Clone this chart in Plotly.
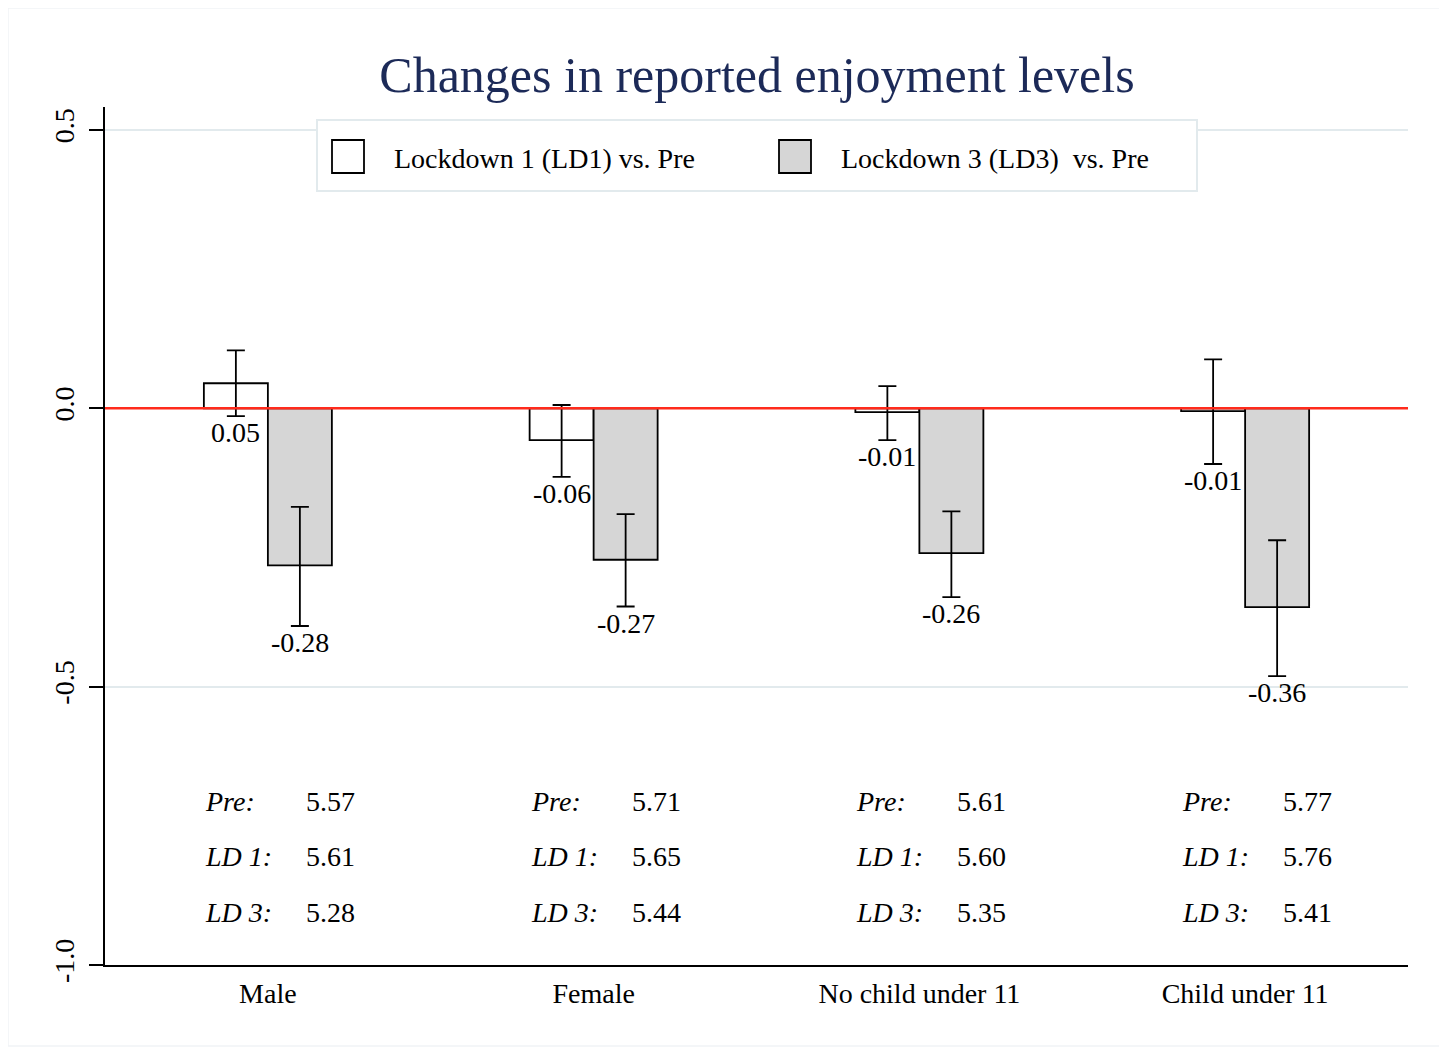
import plotly.graph_objects as go

# ---------------- data ----------------
groups = ["Male", "Female", "No child under 11", "Child under 11"]

ld1_change = [0.045, -0.057, -0.007, -0.005]
ld1_ci_low = [-0.014, -0.123, -0.057, -0.100]
ld1_ci_high = [0.104, 0.006, 0.040, 0.088]
ld1_labels = ["0.05", "-0.06", "-0.01", "-0.01"]

ld3_change = [-0.282, -0.272, -0.260, -0.357]
ld3_ci_low = [-0.391, -0.356, -0.339, -0.481]
ld3_ci_high = [-0.177, -0.190, -0.185, -0.237]
ld3_labels = ["-0.28", "-0.27", "-0.26", "-0.36"]

pre_level = ["5.57", "5.71", "5.61", "5.77"]
ld1_level = ["5.61", "5.65", "5.60", "5.76"]
ld3_level = ["5.28", "5.44", "5.35", "5.41"]
row_names = ["Pre:", "LD 1:", "LD 3:"]
row_y = [-0.70, -0.80, -0.90]

y_ticks = [0.5, 0.0, -0.5, -1.0]
y_tick_text = ["0.5", "0.0", "-0.5", "-1.0"]

legend_names = ["Lockdown 1 (LD1) vs. Pre", "Lockdown 3 (LD3)\u00a0 vs. Pre"]

# ---------------- style ----------------
FONT = "Liberation Serif, Times New Roman, serif"
GRID = "#e2eaed"
LD3_FILL = "#d6d6d6"
FS = 28

x_idx = list(range(len(groups)))

fig = go.Figure()

def err(vals, lo, hi):
    return dict(
        type="data",
        symmetric=False,
        array=[h - v for v, h in zip(vals, hi)],
        arrayminus=[v - l for v, l in zip(vals, lo)],
        color="black",
        thickness=1.8,
        width=9,
    )

fig.add_trace(go.Bar(
    x=x_idx, y=ld1_change, name=legend_names[0],
    marker=dict(color="white", line=dict(color="black", width=1.8)),
    error_y=err(ld1_change, ld1_ci_low, ld1_ci_high),
    showlegend=False,
))
fig.add_trace(go.Bar(
    x=x_idx, y=ld3_change, name=legend_names[1],
    marker=dict(color=LD3_FILL, line=dict(color="black", width=1.8)),
    error_y=err(ld3_change, ld3_ci_low, ld3_ci_high),
    showlegend=False,
))

# page offset: the browser body adds 8px margin
OFF = 8
W, H = 1447 - OFF, 1049 - OFF
ml, mr, mt, mb = 105 - OFF, 39, 107 - OFF, 84
pw, ph = W - ml - mr, H - mt - mb

def px_x(p):  # page x -> paper
    return (p - OFF - ml) / pw

def px_y(p):  # page y -> paper
    return 1 - (p - OFF - mt) / ph

annotations = []
bar_offset = 0.0983  # half of a bar width in category units
for i in x_idx:
    annotations.append(dict(
        x=i - bar_offset, y=ld1_ci_low[i], xref="x", yref="y",
        text=ld1_labels[i], showarrow=False, yanchor="top", xanchor="center",
        yshift=1, font=dict(family=FONT, size=FS, color="black"),
    ))
    annotations.append(dict(
        x=i + bar_offset, y=ld3_ci_low[i], xref="x", yref="y",
        text=ld3_labels[i], showarrow=False, yanchor="top", xanchor="center",
        yshift=1, font=dict(family=FONT, size=FS, color="black"),
    ))
    levels = [pre_level[i], ld1_level[i], ld3_level[i]]
    for name, val, yy in zip(row_names, levels, row_y):
        annotations.append(dict(
            x=i, y=yy, xref="x", yref="y", text="<i>" + name + "</i>",
            showarrow=False, xanchor="left", yanchor="middle",
            xshift=-65, yshift=-3, font=dict(family=FONT, size=FS, color="black"),
        ))
        annotations.append(dict(
            x=i, y=yy, xref="x", yref="y", text=val,
            showarrow=False, xanchor="left", yanchor="middle",
            xshift=36, yshift=-3, font=dict(family=FONT, size=FS, color="black"),
        ))

shapes = [
    dict(type="line", xref="paper", yref="y", x0=0, x1=1, y0=0, y1=0,
         line=dict(color="#ff2b1c", width=2.6), layer="above"),
    dict(type="rect", xref="paper", yref="paper",
         x0=px_x(317), x1=px_x(1197), y0=px_y(191), y1=px_y(120),
         line=dict(color=GRID, width=2), fillcolor="white", layer="above"),
    dict(type="rect", xref="paper", yref="paper",
         x0=px_x(332), x1=px_x(364), y0=px_y(173), y1=px_y(140),
         line=dict(color="black", width=1.8), fillcolor="white", layer="above"),
    dict(type="rect", xref="paper", yref="paper",
         x0=px_x(779), x1=px_x(811), y0=px_y(173), y1=px_y(140),
         line=dict(color="black", width=1.8), fillcolor=LD3_FILL, layer="above"),
    dict(type="rect", xref="paper", yref="paper",
         x0=px_x(8), x1=px_x(1443), y0=px_y(1046), y1=px_y(8),
         line=dict(color="#f1f4f6", width=1.5), fillcolor="rgba(0,0,0,0)", layer="below"),
]
annotations.append(dict(
    x=px_x(392), y=px_y(159), xref="paper", yref="paper", text=legend_names[0],
    showarrow=False, xanchor="left", yanchor="middle",
    font=dict(family=FONT, size=FS, color="black"),
))
annotations.append(dict(
    x=px_x(839), y=px_y(159), xref="paper", yref="paper", text=legend_names[1],
    showarrow=False, xanchor="left", yanchor="middle",
    font=dict(family=FONT, size=FS, color="black"),
))

fig.update_layout(
    width=W, height=H,
    margin=dict(l=ml, r=mr, t=mt, b=mb),
    paper_bgcolor="white", plot_bgcolor="white",
    barmode="group", bargap=0.607, bargroupgap=0,
    title=dict(text="Changes in reported enjoyment levels",
               x=(757 - OFF) / W, xanchor="center", y=1 - (74 - OFF) / H, yanchor="middle",
               font=dict(family=FONT, size=50, color="#1c2a58")),
    font=dict(family=FONT, color="black"),
    annotations=annotations,
    shapes=shapes,
    showlegend=False,
)

fig.update_xaxes(
    range=[-0.5, 3.5], tickmode="array", tickvals=x_idx, ticktext=groups,
    showline=True, linecolor="black", linewidth=2, ticks="",
    showgrid=False, zeroline=False, ticklabelstandoff=2,
    tickfont=dict(family=FONT, size=FS, color="black"),
)
fig.update_yaxes(
    range=[-1.0, 0.5 + 23 / 557], tickmode="array", tickvals=y_ticks, ticktext=y_tick_text,
    tickangle=-90, showline=True, linecolor="black", linewidth=2,
    ticks="outside", ticklen=14, tickwidth=2, tickcolor="black",
    showgrid=True, gridcolor=GRID, gridwidth=2, zeroline=False,
    tickfont=dict(family=FONT, size=FS, color="black"), ticklabelstandoff=4,
)

fig.write_html("out.html")
